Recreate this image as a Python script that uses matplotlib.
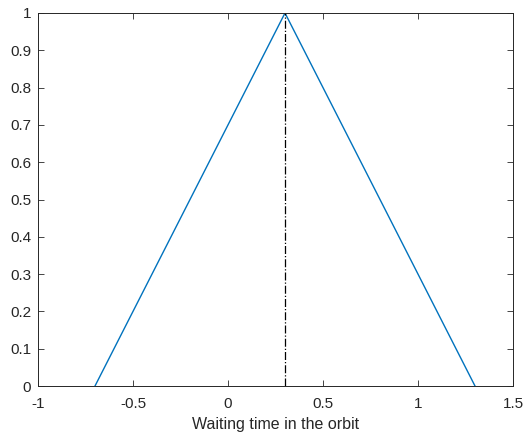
import numpy as np
import matplotlib.pyplot as plt

plt.rcParams['font.family'] = ['Liberation Sans', 'DejaVu Sans']

# triangle membership function
t_vals = [-0.7, 0.3, 1.3]
mu_vals = [0, 1, 0]
peak_t = 0.3
peak_mu = [0, 1]

x_ticks = [-1, -0.5, 0, 0.5, 1, 1.5]
x_labels = ['-1', '-0.5', '0', '0.5', '1', '1.5']
y_ticks = [0, 0.1, 0.2, 0.3, 0.4, 0.5, 0.6, 0.7, 0.8, 0.9, 1]
y_labels = ['0', '0.1', '0.2', '0.3', '0.4', '0.5', '0.6', '0.7', '0.8', '0.9', '1']

fig = plt.figure(figsize=(5.25, 4.34), dpi=100)
ax = fig.add_axes([38/525, 48/434, 475/525, 373/434])

ax.plot(t_vals, mu_vals, color='#0072BD', linewidth=1.0)
ax.plot([peak_t, peak_t], peak_mu, color='black', linestyle='-.', linewidth=0.9)

ax.set_xlim(-1, 1.5)
ax.set_ylim(0, 1)
ax.set_xticks(x_ticks)
ax.set_xticklabels(x_labels)
ax.set_yticks(y_ticks)
ax.set_yticklabels(y_labels)
ax.set_xlabel('Waiting time in the orbit', fontsize=11.5, color='#262626', labelpad=4)

ax.tick_params(direction='in', length=4, width=0.6, colors='#262626', labelsize=11,
               top=True, right=True, labeltop=False, labelright=False)
ax.tick_params(axis='x', pad=8)
ax.tick_params(axis='y', pad=5)
for s in ax.spines.values():
    s.set_color('#262626')
    s.set_linewidth(0.7)

fig.savefig('out.png', dpi=100)
